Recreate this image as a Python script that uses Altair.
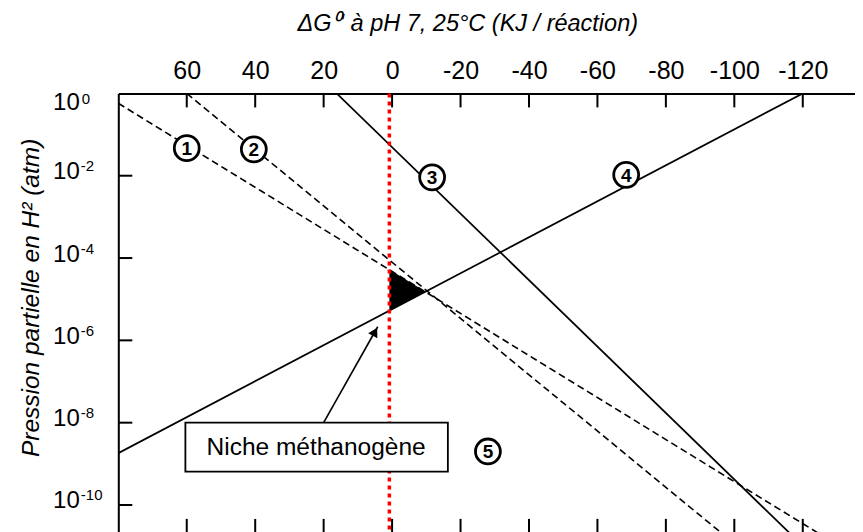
import altair as alt
import pandas as pd

# ---------------- data ----------------
x_ticks = [60, 40, 20, 0, -20, -40, -60, -80, -100, -120]
y_ticks = [1, 1e-2, 1e-4, 1e-6, 1e-8, 1e-10]
y_exponents = ["0", "-2", "-4", "-6", "-8", "-10"]

# reaction lines (ΔG0' in kJ, partial pressure of H2 in atm) – two end points each
line1_dg = [80, -124.4]
line1_p = [0.575, 2.1e-11]
line2_dg = [60, -96.2]
line2_p = [1.0, 2.1e-11]
line3_dg = [16.2, -116.1]
line3_p = [1.0, 2.1e-11]
line4_dg = [80, -120]
line4_p = [1.82e-9, 1.0]

# methanogenic niche triangle
tri_dg = [0.8, -9.8]
tri_top = [5.25e-5, 1.51e-5]
tri_bottom = [5.25e-6, 1.51e-5]

# red dotted line at ΔG = 0
red_dg = [0.8]

# annotation arrow (tail, tip) and arrowhead
arrow_dg = [20, 4.2]
arrow_p = [1e-8, 2.14e-6]
head_dg = [5.0]
head_p = [1.62e-6]

# annotation box and label
box_dg = [60.4, -16.3]
box_p = [1e-8, 6.46e-10]
box_label = ["Niche méthanogène"]
box_label_dg = [22.2]
box_label_p = [2.57e-9]

# circled numbers
circle_labels = ["1", "2", "3", "4", "5"]
circle_dg = [60, 40.4, -11.7, -68.4, -28]
circle_p = [0.0468, 0.0437, 0.00912, 0.0105, 2.0e-9]

# ---------------- tables ----------------
lines = pd.DataFrame({
    "id": ["1", "1", "2", "2", "3", "3", "4", "4"],
    "dg": line1_dg + line2_dg + line3_dg + line4_dg,
    "p": line1_p + line2_p + line3_p + line4_p,
})
dashed = lines[lines["id"].isin(["1", "2"])]
solid = lines[lines["id"].isin(["3", "4"])]
tri = pd.DataFrame({"dg": tri_dg, "top": tri_top, "bottom": tri_bottom})
red = pd.DataFrame({"dg": red_dg})
arrow = pd.DataFrame({"dg": [arrow_dg[0]], "p": [arrow_p[0]], "dg2": [arrow_dg[1]], "p2": [arrow_p[1]]})
head = pd.DataFrame({"dg": head_dg, "p": head_p})
box = pd.DataFrame({"dg": [box_dg[0]], "dg2": [box_dg[1]], "p": [box_p[0]], "p2": [box_p[1]]})
boxlab = pd.DataFrame({"dg": box_label_dg, "p": box_label_p, "t": box_label})
circ = pd.DataFrame({"dg": circle_dg, "p": circle_p, "t": circle_labels})
xt = pd.DataFrame({"v": x_ticks})
yt = pd.DataFrame({"v": y_ticks, "e": y_exponents})
yt_inner = yt[yt["v"] < 1]
yt_top = yt[yt["v"] == 1]

W, H = 736.5, 439.5
FONT = "Liberation Sans"

xs = alt.Scale(domain=[80, -135.2], nice=False, zero=False)
ys = alt.Scale(type="log", domain=[2.1e-11, 1], nice=False)

x_axis = alt.Axis(
    orient="top", values=x_ticks, labelExpr="'' + datum.value",
    ticks=False, tickSize=0, domain=True, domainColor="black", domainWidth=2,
    grid=False,
    labelFont=FONT, labelFontSize=25, labelColor="black",
    labelBaseline="alphabetic", labelPadding=15, labelFlush=False,
    title="ΔG⁰' à pH 7, 25°C (KJ / réaction)",
    titleFont=FONT, titleFontSize=23.5, titleFontStyle="italic",
    titleFontWeight="normal", titleColor="black",
    titleX=349, titleY=-63, titleAlign="center", titleBaseline="alphabetic",
)
y_axis = alt.Axis(
    labels=False, ticks=False, tickSize=0, domain=True, domainColor="black",
    domainWidth=2, grid=False,
    title="Pression partielle en H² (atm)",
    titleFont=FONT, titleFontSize=24.5, titleFontStyle="italic",
    titleFontWeight="normal", titleColor="black",
    titleAngle=-90, titleX=-80, titleY=204, titleAlign="center",
    titleBaseline="alphabetic",
)


def X(field):
    return alt.X(field, scale=xs, axis=x_axis)


def Y(field):
    return alt.Y(field, scale=ys, axis=y_axis)


dashed_layer = alt.Chart(dashed).mark_line(
    color="black", strokeWidth=1.6, strokeDash=[7, 4], clip=True
).encode(x=X("dg:Q"), y=Y("p:Q"), detail="id:N")
solid_layer = alt.Chart(solid).mark_line(
    color="black", strokeWidth=1.7, clip=True
).encode(x=X("dg:Q"), y=Y("p:Q"), detail="id:N")
tri_layer = alt.Chart(tri).mark_area(color="black", opacity=1).encode(
    x=X("dg:Q"), y=Y("top:Q"), y2="bottom:Q",
)
red_layer = alt.Chart(red).mark_rule(
    color="#ff0000", strokeWidth=3.5, strokeDash=[4, 4]
).encode(x=X("dg:Q"))

arrow_layer = alt.Chart(arrow).mark_rule(color="black", strokeWidth=1.6).encode(
    x=X("dg:Q"), x2="dg2:Q", y=Y("p:Q"), y2="p2:Q",
)
head_layer = alt.Chart(head).mark_point(
    shape="triangle-up", filled=True, color="black", size=110, angle=29, opacity=1
).encode(x=X("dg:Q"), y=Y("p:Q"))
box_layer = alt.Chart(box).mark_rect(
    fill="white", stroke="black", strokeWidth=1.8
).encode(x=X("dg:Q"), x2="dg2:Q", y=Y("p:Q"), y2="p2:Q")
boxlab_layer = alt.Chart(boxlab).mark_text(
    font=FONT, fontSize=24.5, color="black", baseline="middle", align="center", dy=1
).encode(x=X("dg:Q"), y=Y("p:Q"), text="t:N")
circ_layer = alt.Chart(circ).mark_circle(
    fill="white", stroke="black", strokeWidth=2.8, size=620, opacity=1
).encode(x=X("dg:Q"), y=Y("p:Q"))
circ_text = alt.Chart(circ).mark_text(
    font=FONT, fontSize=19, fontWeight="bold", color="black",
    baseline="middle", align="center", dy=1
).encode(x=X("dg:Q"), y=Y("p:Q"), text="t:N")

top_ticks = alt.Chart(xt).mark_rule(color="black", strokeWidth=2).encode(
    x=X("v:Q"), y=alt.value(0), y2=alt.value(14)
)
bottom_ticks = alt.Chart(xt).mark_rule(color="black", strokeWidth=2).encode(
    x=X("v:Q"), y=alt.value(H - 14), y2=alt.value(H)
)
bottom_line = alt.Chart(red).mark_rule(color="black", strokeWidth=2).encode(
    x=alt.value(0), x2=alt.value(W), y=alt.value(H)
)
left_ticks = alt.Chart(yt_inner).mark_rule(color="black", strokeWidth=2).encode(
    y=Y("v:Q"), x=alt.value(0), x2=alt.value(14)
)

ylab_base = alt.Chart(yt_inner).mark_text(
    font=FONT, fontSize=24, color="black", align="right", baseline="alphabetic", dy=3.5
).encode(y=Y("v:Q"), x=alt.value(-38.5), text=alt.value("10"))
yexp_base = alt.Chart(yt_inner).mark_text(
    font=FONT, fontSize=15, color="black", align="left", baseline="alphabetic", dy=-4.5
).encode(y=Y("v:Q"), x=alt.value(-37.5), text="e:N")
ylab_top = alt.Chart(yt_top).mark_text(
    font=FONT, fontSize=24, color="black", align="right", baseline="alphabetic", dy=16.5
).encode(y=Y("v:Q"), x=alt.value(-38.5), text=alt.value("10"))
yexp_top = alt.Chart(yt_top).mark_text(
    font=FONT, fontSize=15, color="black", align="left", baseline="alphabetic", dy=11
).encode(y=Y("v:Q"), x=alt.value(-36.5), text="e:N")

chart = alt.layer(
    dashed_layer, solid_layer, tri_layer, red_layer, arrow_layer, head_layer,
    box_layer, boxlab_layer, circ_layer, circ_text,
    top_ticks, bottom_ticks, bottom_line, left_ticks,
    ylab_base, yexp_base, ylab_top, yexp_top,
).properties(
    width=W, height=H,
    autosize=alt.AutoSizeParams(type="none"),
    padding={"left": 110.3, "top": 85.4, "right": 0, "bottom": 0},
    background="white",
).configure_view(
    stroke=None
).configure_axis(grid=False)

chart.save("out.html", embed_options={"renderer": "svg", "actions": False})
